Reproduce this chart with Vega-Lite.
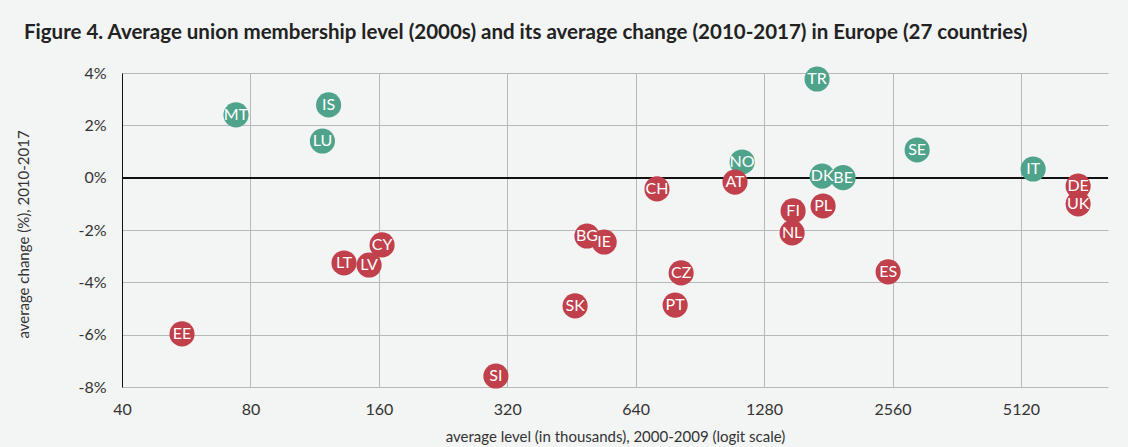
{
  "$schema": "https://vega.github.io/schema/vega-lite/v6.json",
  "width": 986,
  "height": 314,
  "autosize": {"type": "none"},
  "padding": {"left": 122, "top": 73, "right": 20, "bottom": 60},
  "background": "#f3f4f4",
  "title": {
    "text": "Figure 4. Average union membership level (2000s) and its average change (2010-2017) in Europe (27 countries)",
    "anchor": "start",
    "frame": "group",
    "dx": -98,
    "offset": 22,
    "font": "Lato",
    "fontSize": 20.5,
    "fontWeight": "bold",
    "color": "#222222"
  },
  "config": {
    "view": {"stroke": null},
    "font": "Lato"
  },
  "data": {
    "values": [
      {"c": "MT", "x": 74, "y": 2.4, "g": "up"},
      {"c": "IS", "x": 122, "y": 2.78, "g": "up"},
      {"c": "LU", "x": 118, "y": 1.4, "g": "up"},
      {"c": "TR", "x": 1704, "y": 3.77, "g": "up"},
      {"c": "NO", "x": 1137, "y": 0.6, "g": "up"},
      {"c": "AT", "x": 1094, "y": -0.17, "g": "down"},
      {"c": "DK", "x": 1751, "y": 0.06, "g": "up"},
      {"c": "BE", "x": 1961, "y": 0.0, "g": "up"},
      {"c": "SE", "x": 2924, "y": 1.06, "g": "up"},
      {"c": "IT", "x": 5469, "y": 0.33, "g": "up"},
      {"c": "EE", "x": 55.3, "y": -5.97, "g": "down"},
      {"c": "LT", "x": 132.6, "y": -3.26, "g": "down"},
      {"c": "CY", "x": 162.8, "y": -2.57, "g": "down"},
      {"c": "LV", "x": 151.8, "y": -3.34, "g": "down"},
      {"c": "SI", "x": 301, "y": -7.58, "g": "down"},
      {"c": "SK", "x": 461.5, "y": -4.9, "g": "down"},
      {"c": "BG", "x": 492, "y": -2.23, "g": "down"},
      {"c": "IE", "x": 540, "y": -2.46, "g": "down"},
      {"c": "CH", "x": 718, "y": -0.43, "g": "down"},
      {"c": "CZ", "x": 818, "y": -3.64, "g": "down"},
      {"c": "PT", "x": 792, "y": -4.87, "g": "down"},
      {"c": "NL", "x": 1489, "y": -2.11, "g": "down"},
      {"c": "FI", "x": 1497, "y": -1.27, "g": "down"},
      {"c": "PL", "x": 1760, "y": -1.08, "g": "down"},
      {"c": "ES", "x": 2500, "y": -3.6, "g": "down"},
      {"c": "UK", "x": 6972, "y": -1.0, "g": "down"},
      {"c": "DE", "x": 6972, "y": -0.32, "g": "down"}
    ]
  },
  "encoding": {
    "x": {
      "field": "x",
      "type": "quantitative",
      "scale": {"type": "log", "domain": [40, 8192], "nice": false},
      "axis": {
        "values": [40, 80, 160, 320, 640, 1280, 2560, 5120],
        "format": "d",
        "title": "average level (in thousands), 2000-2009 (logit scale)",
        "grid": true,
        "gridColor": "#b8b8b8",
        "domain": false,
        "ticks": false,
        "labelPadding": 14,
        "labelFontSize": 16,
        "labelColor": "#333333",
        "labelFlush": false,
        "titleFontSize": 15,
        "titleFontWeight": "normal",
        "titleColor": "#333333",
        "titlePadding": 12
      }
    },
    "y": {
      "field": "y",
      "type": "quantitative",
      "scale": {"domain": [-8, 4], "nice": false},
      "axis": {
        "values": [-8, -6, -4, -2, 0, 2, 4],
        "labelExpr": "datum.value + '%'",
        "title": "average change (%), 2010-2017",
        "grid": true,
        "gridColor": "#b8b8b8",
        "domain": true,
        "domainColor": "#111111",
        "ticks": false,
        "labelPadding": 16,
        "labelFontSize": 16,
        "labelColor": "#333333",
        "titleFontSize": 15,
        "titleFontWeight": "normal",
        "titleColor": "#333333",
        "titleX": -99,
        "titleY": 161,
        "titleAngle": -90,
        "titleAlign": "center",
        "titleBaseline": "middle"
      }
    }
  },
  "layer": [
    {
      "mark": {"type": "rule", "color": "#111111", "strokeWidth": 1.2},
      "encoding": {"y": {"datum": 0}, "x": null}
    },
    {
      "mark": {"type": "circle", "size": 630, "opacity": 1},
      "encoding": {
        "color": {
          "field": "g",
          "type": "nominal",
          "scale": {"domain": ["up", "down"], "range": ["#4fa38b", "#c0404b"]},
          "legend": null
        }
      }
    },
    {
      "mark": {"type": "text", "color": "white", "fontSize": 16, "align": "center", "baseline": "middle"},
      "encoding": {"text": {"field": "c"}}
    }
  ]
}
